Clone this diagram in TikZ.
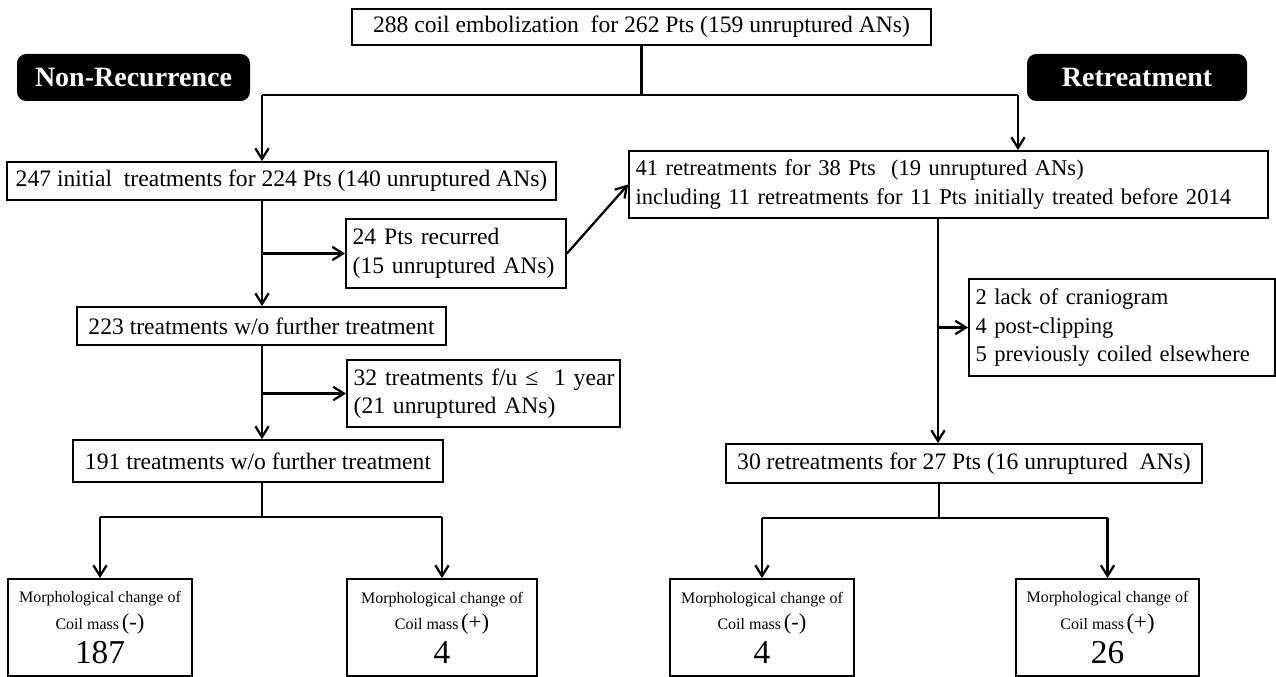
\documentclass[tikz,border=0pt]{standalone}
\usepackage{fontspec}
\setmainfont{Liberation Serif}
\usetikzlibrary{arrows.meta}
\newcommand\mainfs{\fontsize{17.7}{21.3}\selectfont}
\newcommand\smallmainfs{\fontsize{16.9}{21.3}\selectfont}
\begin{document}
\begin{tikzpicture}[x=0.75pt,y=-0.75pt,
  box/.style={draw, line width=1.4pt, inner sep=0pt, font=\mainfs},
  lbox/.style={box, align=left, inner xsep=5pt},
  tag/.style={fill=black, rounded corners=7pt, text=white, inner sep=0pt,
    font=\fontsize{21}{24}\selectfont\bfseries},
  mbox/.style={box, align=center, minimum width=138pt, minimum height=72.75pt,
    font=\fontsize{12}{20}\selectfont},
  ln/.style={line width=1.7pt},
  arr/.style={ln, -{Straight Barb[length=8pt,width=10pt]}}
]
\useasboundingbox (0,0) rectangle (1276,677);

% boxes
\node[box, minimum width=434.25pt, minimum height=27pt] (top) at (641.5,27)
  {288 coil embolization~ for 262 Pts (159 unruptured ANs)};
\node[tag, minimum width=174.75pt, minimum height=35.25pt] (nonrec) at (133.5,77.5) {Non-Recurrence};
\node[tag, minimum width=165pt, minimum height=35.25pt] (retr) at (1137,77.5) {Retreatment};

\node[box, minimum width=411.75pt, minimum height=28.5pt] (n247) at (281.5,181)
  {247 initial~ treatments for 224 Pts (140 unruptured ANs)};
\node[lbox, font=\smallmainfs, text width=469.25pt, minimum height=50.25pt] (n41) at (948.5,184.5)
  {\mbox{41 retreatments for 38 Pts~ (19 unruptured ANs)}\\
   \mbox{including 11 retreatments for 11 Pts initially treated before 2014}};
\node[lbox, text width=155pt, minimum height=51.75pt] (n24) at (456,253.5)
  {\mbox{24 Pts recurred}\\\mbox{(15 unruptured ANs)}};
\node[box, minimum width=276.75pt, minimum height=28.5pt] (n223) at (261.5,326)
  {223 treatments w/o further treatment};
\node[lbox, text width=194.75pt, minimum height=50.25pt] (n32) at (483.5,393.5)
  {\mbox{32 treatments f/u ≤~ 1 year}\\\mbox{(21 unruptured ANs)}};
\node[box, minimum width=277.5pt, minimum height=31.5pt] (n191) at (258,461)
  {191 treatments w/o further treatment};
\node[lbox, font=\smallmainfs, text width=219.5pt, minimum height=72.75pt] (nlack) at (1122,327.5)
  {\mbox{2 lack of craniogram}\\\mbox{4 post-clipping}\\\mbox{5 previously coiled elsewhere}};
\node[box, minimum width=357pt, minimum height=29.25pt] (n30) at (964,463.5)
  {30 retreatments for 27 Pts (16 unruptured~ ANs)};

\node[mbox] (m1) at (100,627.5)
  {Morphological change of\\ Coil mass\,{\fontsize{17}{20}\selectfont(-)}\\[4pt]{\fontsize{25}{28}\selectfont 187}};
\node[mbox, minimum width=142.5pt] (m2) at (442,627.5)
  {Morphological change of\\ Coil mass\,{\fontsize{17}{20}\selectfont(+)}\\[4pt]{\fontsize{25}{28}\selectfont 4}};
\node[mbox] (m3) at (762,627.5)
  {Morphological change of\\ Coil mass\,{\fontsize{17}{20}\selectfont(-)}\\[4pt]{\fontsize{25}{28}\selectfont 4}};
\node[mbox, minimum width=137.25pt] (m4) at (1107.5,627.5)
  {Morphological change of\\ Coil mass\,{\fontsize{17}{20}\selectfont(+)}\\[4pt]{\fontsize{25}{28}\selectfont 26}};

% junctions
\coordinate (hL) at (262,95);
\coordinate (hR) at (1018,95);
\coordinate (tR) at (938,0);
\coordinate (bL) at (262,517);
\coordinate (bR) at (939,518);

% connectors
\draw[ln] (top.south) -- (top.south |- hL);
\draw[ln] (hL) -- (hR);
\draw[arr] (hL) -- (hL |- n247.north);
\draw[arr] (hR) -- (hR |- n41.north);
\draw[arr] (hL |- n247.south) -- (hL |- n223.north);
\draw[arr] (hL |- n24.west) -- (n24.west);
\draw[arr] (n24.east) -- (n41.west);
\draw[arr] (hL |- n223.south) -- (hL |- n191.north);
\draw[arr] (hL |- n32.west) -- (n32.west);
\draw[ln] (hL |- n191.south) -- (bL);
\draw[ln] (bL -| m1.north) -- (bL -| m2.north);
\draw[arr] (bL -| m1.north) -- (m1.north);
\draw[arr] (bL -| m2.north) -- (m2.north);

\draw[arr] (tR |- n41.south) -- (tR |- n30.north);
\draw[arr] (tR |- nlack.west) -- (nlack.west);
\draw[ln] (bR |- n30.south) -- (bR);
\draw[ln] (bR -| m3.north) -- (bR -| m4.north);
\draw[arr] (bR -| m3.north) -- (m3.north);
\draw[arr] (bR -| m4.north) -- (m4.north);
\end{tikzpicture}
\end{document}
